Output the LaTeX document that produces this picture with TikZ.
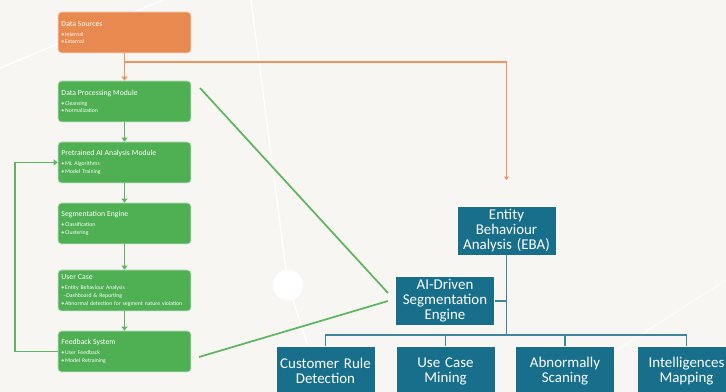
\documentclass[tikz,border=0pt]{standalone}
\usepackage{fontspec}
\setmainfont{Carlito}
\usetikzlibrary{arrows.meta}

\definecolor{bgpaper}{HTML}{F7F6F2}
\definecolor{dsorange}{HTML}{E8894F}
\definecolor{modgreen}{HTML}{4EAF53}
\definecolor{ebateal}{HTML}{176F8C}
\definecolor{linegreen}{HTML}{5DB760}
\definecolor{lineorange}{HTML}{EE935C}
\definecolor{lineteal}{HTML}{3C86A0}

\tikzset{
  modbox/.style={rounded corners=2.5pt, draw=white!70!modgreen, line width=0.5pt, fill=modgreen, text=white,
    text width=94.5pt, inner xsep=2.6pt, inner ysep=1pt, minimum height=30.75pt, align=left,
    font=\fontsize{4.3}{5.8}\selectfont},
  srcbox/.style={modbox, fill=dsorange, draw=white!70!dsorange},
  ebabox/.style={draw=white, line width=0.6pt, fill=ebateal, text=white, text width=72pt, inner sep=1pt,
    minimum width=74.25pt, minimum height=36.75pt, align=center, font=\fontsize{11.2}{11.3}\selectfont},
  leafbox/.style={ebabox, minimum height=37.5pt},
  flow/.style={line width=1.2pt, draw=linegreen, -{Triangle[length=3pt,width=4.5pt]}},
  srcflow/.style={flow, draw=lineorange},
  srcline/.style={line width=1.1pt, draw=lineorange, -{Triangle[length=2.5pt,width=3.5pt]}},
  linkline/.style={line width=1.3pt, draw=linegreen},
  treeline/.style={line width=1.1pt, draw=lineteal}
}
\newcommand{\boxtitle}[1]{{\fontsize{5.8}{7}\selectfont #1}\\[1.6pt]}
\newcommand{\itm}{•\hspace{0.6pt}}

\begin{document}
\begin{tikzpicture}[x=0.75pt,y=0.75pt,yscale=-1,xscale=1]

% Background
\fill[bgpaper] (0,0) rectangle (726,392);
\useasboundingbox (0,0) rectangle (726,392);
\draw[white, line width=1pt] (0,68) -- (163,0);
\draw[white, line width=1pt] (251,0) -- (288,285) -- (323,392);
\draw[white, line width=0.8pt, opacity=0.7] (617,350) -- (726,280);
\fill[white] (288,285) circle (15);

% Left column
\node[srcbox] (ds) at (124.5,32.5) {\boxtitle{Data Sources}\itm Internal\\\itm External};
\node[modbox] (dp) at (124.5,101.5) {\boxtitle{Data Processing Module}\itm Cleansing\\\itm Normalization};
\node[modbox] (pa) at (124.5,162.5) {\boxtitle{Pretrained AI Analysis Module}\itm ML Algorithms\\\itm Model Training};
\node[modbox] (se) at (124.5,223.5) {\boxtitle{Segmentation Engine}\itm Classification\\\itm Clustering};
\node[modbox] (uc) at (124.5,290.5) {\boxtitle{User Case}\itm Entity Behaviour Analysis\\\hspace*{1.5pt}–Dashboard \& Reporting\\\itm Abnormal detection for segment nature violation};
\node[modbox] (fb) at (124.5,351.5) {\boxtitle{Feedback System}\itm User Feedback\\\itm Model Retraining};

% Right tree
\node[ebabox] (eba) at (506.5,230.5) {Entity\\Behaviour\\Analysis (EBA)};
\node[ebabox] (ai) at (445,301) {AI-Driven\\Segmentation\\Engine};
\node[leafbox] (crd) at (325.5,371) {Customer Rule\\Detection};
\node[leafbox] (ucm) at (445.5,371) {Use Case\\Mining};
\node[leafbox] (abs) at (565,371) {Abnormally\\Scaning};
\node[leafbox] (igm) at (686.5,371) {Intelligences\\Mapping};

% Connector points
\coordinate (split) at (124.5,62);
\coordinate (ebaIn) at (506.5,180);
\coordinate (dpOut) at (200,88);
\coordinate (fbOut) at (199,357);
\coordinate (aiIn1) at (388,293);
\coordinate (aiIn2) at (388,301);
\coordinate (bus) at (506.5,335);

% Flow arrows
\draw[srcflow] (ds) -- (dp);
\draw[srcline] (split) -| (ebaIn);
\draw[flow] (dp) -- (pa);
\draw[flow] (pa) -- (se);
\draw[flow] (se) -- (uc);
\draw[flow] (uc) -- (fb);
\draw[flow] (fb.west) -- ++(-43,0) |- (pa.west);

% Links to the engine
\draw[linkline] (dpOut) -- (aiIn1);
\draw[linkline] (fbOut) -- (aiIn2);

% Tree lines
\draw[treeline] (eba) -- (bus);
\draw[treeline] (ai.east) -- (ai.east -| bus);
\foreach \leaf in {crd,ucm,abs,igm}
  \draw[treeline] (bus) -| (\leaf.north);

\end{tikzpicture}
\end{document}
